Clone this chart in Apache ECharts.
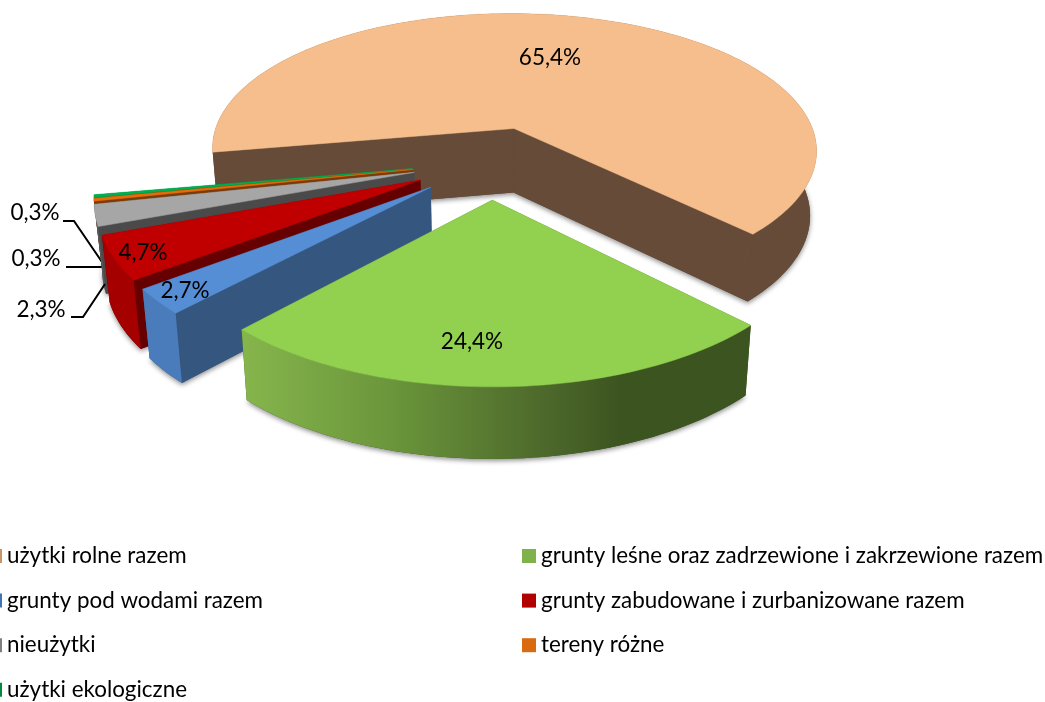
<!DOCTYPE html>
<html>
<head>
<meta charset="utf-8">
<style>html,body{margin:0;padding:0;background:#fff}#c{width:1045px;height:702px}</style>
<script src="https://cdn.jsdelivr.net/npm/echarts@6/dist/echarts.min.js"></script>
</head>
<body>
<div id="c"></div>
<script>
// --- data ---
var categories = ['użytki rolne razem','grunty leśne oraz zadrzewione i zakrzewione razem','grunty pod wodami razem','grunty zabudowane i zurbanizowane razem','nieużytki','tereny różne','użytki ekologiczne'];
var shares = [65.4, 24.4, 2.7, 4.7, 2.3, 0.3, 0.3];

// --- style ---
var topColors = ['#F5BE8C','#92D050','#558ED5','#C00000','#A6A6A6','#E46C0A','#00B050'];
var radialWall = ['#654B38','#3C5420','#35577F','#660000','#4A4A4A','#7A3B06','#006B30'];
var arcWall = ['#654B38',
  {type:'linear',global:true,x:243,y:0,x2:748,y2:0,colorStops:[{offset:0,color:'#86B54C'},{offset:0.3,color:'#6A953B'},{offset:0.58,color:'#4F6B2C'},{offset:0.75,color:'#3C5420'},{offset:1,color:'#3C5420'}]},
  '#4A7BBB','#A50000','#5A5A5A','#7A3B06','#006B30'];
var legendColors = ['#C8946A','#7FB24A','#3F74B5','#B00000','#7F7F7F','#D96A10','#008A40'];
// label centres in page pixels; leader polylines for outside labels
var labelPos = [[550,58],[472,342],[185,291],[143,253],[41,310],[36,259],[35,213]];
var leaders = [null,null,null,null,[[71,317],[83,317],[105,284]],[[66,267],[102,267]],[[63,221],[74,221],[102,262]]];

// --- projection of the tilted, exploded pie ---
var view = {cx:491, cy:162, ax:310, ay:143.2, k:0.16, explode:0.255, start:170, depth:64, depthSlope:8/257, shrink:0.98};
var total = shares.reduce(function(a,b){return a+b;},0);
var ranges = [];
(function(){var a=view.start;shares.forEach(function(v){var s=v/total*360;ranges.push([a,a+s]);a+=s;});})();
function rad(d){return d*Math.PI/180;}
function project(u,v){var w=1-view.k*v;return [view.cx+view.ax*u/w, view.cy+view.ay*v/w];}
function lower(p){return [view.cx+(p[0]-view.cx)*view.shrink, p[1]+view.depth+(p[1]-128)*view.depthSlope];}

function sliceItem(i){
  return function(params, api){
    var val = api.value(0);
    var a0 = ranges[i][0], a1 = a0 + val/total*360, mid = (a0+a1)/2;
    var ox = view.explode*Math.cos(rad(mid)), oy = view.explode*Math.sin(rad(mid));
    var apex = project(ox,oy), arc = [];
    var n = Math.max(3, Math.ceil((a1-a0)/1.5));
    for (var j=0;j<=n;j++){
      var t = rad(a0+(a1-a0)*j/n);
      arc.push(project(ox+Math.cos(t), oy+Math.sin(t)));
    }
    var topPoly = [apex].concat(arc);
    var arcLow = arc.map(lower), apexLow = lower(apex);
    var first = arc[0], last = arc[arc.length-1];
    var children = [
      {type:'polygon',shape:{points:[apexLow].concat(arcLow)},style:{fill:radialWall[i],shadowBlur:5,shadowColor:'rgba(0,0,0,0.45)',shadowOffsetY:2}},
      {type:'polygon',shape:{points:[apex,first,lower(first),apexLow]},style:{fill:radialWall[i]}},
      {type:'polygon',shape:{points:[apex,last,lower(last),apexLow]},style:{fill:radialWall[i]}},
      {type:'polygon',shape:{points:arc.concat(arcLow.slice().reverse())},style:{fill:arcWall[i]}},
      {type:'polygon',shape:{points:topPoly},style:{fill:topColors[i],stroke:topColors[i],lineWidth:0.5}}
    ];
    if (leaders[i]) children.push({type:'polyline',shape:{points:leaders[i]},style:{fill:null,stroke:'#000',lineWidth:2}});
    children.push({type:'text',x:labelPos[i][0],y:labelPos[i][1],style:{
      text:val.toFixed(1).replace('.',',')+'%',fill:'#000',font:'22.5px Lato',align:'center',verticalAlign:'middle'}});
    return {type:'group',children:children};
  };
}

var depthOrder = shares.map(function(v,i){var m=(ranges[i][0]+ranges[i][1])/2;return Math.sin(rad(m));});
var series = categories.map(function(name,i){
  return {
    type:'custom', name:name, coordinateSystem:'none', silent:true, animation:false,
    z: 10 + depthOrder[i],
    itemStyle:{color:legendColors[i]},
    data:[[shares[i]]],
    renderItem:sliceItem(i)
  };
});

var legendBase = {orient:'vertical',itemWidth:14,itemHeight:14,itemGap:22.6,padding:0,selectedMode:false,icon:'rect',height:157,
  textStyle:{fontFamily:'Lato',fontSize:22.4,color:'#000',lineHeight:20}};
var chart = echarts.init(document.getElementById('c'),null,{renderer:'canvas'});
chart.setOption({
  backgroundColor:'#fff',
  animation:false,
  legend:[
    Object.assign({},legendBase,{left:-12,top:545,data:[categories[0],categories[2],categories[4],categories[6]]}),
    Object.assign({},legendBase,{left:522,top:545,data:[categories[1],categories[3],categories[5]]})
  ],
  series:series
});
</script>
</body>
</html>
